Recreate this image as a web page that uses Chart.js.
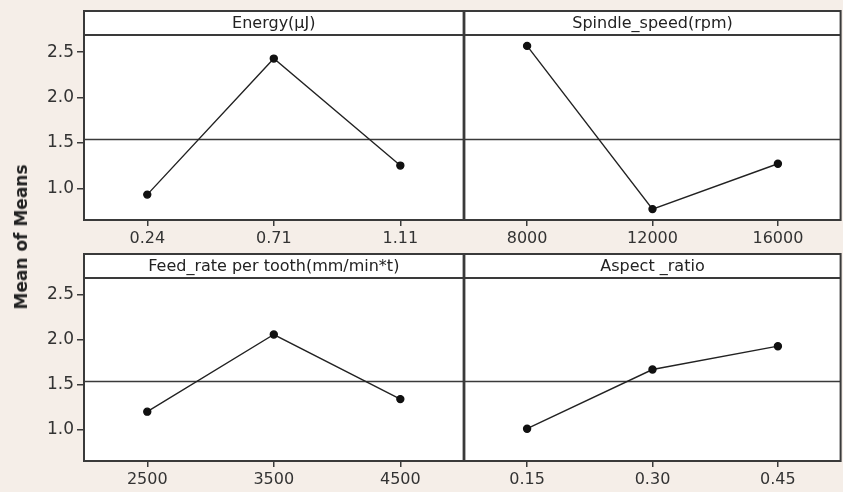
<!DOCTYPE html>
<html>
<head>
<meta charset="utf-8">
<script src="https://cdn.jsdelivr.net/npm/chart.js@4.4.1/dist/chart.umd.min.js"></script>
<style>
    html, body { margin: 0; padding: 0; background: #f5eee8; }
    #wrap { position: relative; width: 843px; height: 492px; overflow: hidden; }
    .panel { position: absolute; }
    #ytitle {
        position: absolute; left: 21px; top: 237px;
        transform: translate(-50%, -50%) rotate(-90deg);
        font: bold 17px "DejaVu Sans", sans-serif; color: #222; white-space: nowrap;
    }
</style>
</head>
<body>
<div id="wrap">
    <div class="panel" style="left:0;top:0"><canvas id="c1" width="469" height="250"></canvas></div>
    <div class="panel" style="left:459px;top:0"><canvas id="c2" width="387" height="250"></canvas></div>
    <div class="panel" style="left:0;top:250px"><canvas id="c3" width="469" height="242"></canvas></div>
    <div class="panel" style="left:459px;top:250px"><canvas id="c4" width="387" height="242"></canvas></div>
    <div id="ytitle">Mean of Means</div>
</div>
<script>
"use strict";

// Factor levels (x categories) and mean of means per level
const energyLevels = ['0.24', '0.71', '1.11'];
const energyMeans = [0.93, 2.43, 1.25];

const spindleLevels = ['8000', '12000', '16000'];
const spindleMeans = [2.57, 0.77, 1.27];

const feedLevels = ['2500', '3500', '4500'];
const feedMeans = [1.20, 2.06, 1.34];

const aspectLevels = ['0.15', '0.30', '0.45'];
const aspectMeans = [1.01, 1.67, 1.93];

// Tick labels on the y axis
const yTicks = [1.0, 1.5, 2.0, 2.5];

// Grand mean (reference line) - same for every factor
const grandMean = energyMeans.reduce((a, b) => a + b, 0) / energyMeans.length;

const FONT = '"DejaVu Sans", sans-serif';
const FRAME = '#3a3a3a';

// Plugin that draws the white panel, the header band with title and the mean line
const panelFrame = {
    id: 'panelFrame',
    beforeDraw(chart, args, opts) {
        const { ctx, chartArea: a } = chart;
        ctx.save();
        ctx.fillStyle = '#fff';
        ctx.fillRect(a.left, a.top - opts.band, a.right - a.left, a.bottom - a.top + opts.band);
        ctx.restore();
    },
    beforeDatasetsDraw(chart) {
        const { ctx, chartArea: a } = chart;
        const y = chart.scales.y.getPixelForValue(grandMean);
        ctx.save();
        ctx.strokeStyle = FRAME;
        ctx.lineWidth = 1.5;
        ctx.beginPath();
        ctx.moveTo(a.left, y);
        ctx.lineTo(a.right, y);
        ctx.stroke();
        ctx.restore();
    },
    afterDraw(chart, args, opts) {
        const { ctx, chartArea: a } = chart;
        ctx.save();
        ctx.strokeStyle = FRAME;
        ctx.lineWidth = 2;
        // Panel box incl. header band
        ctx.strokeRect(a.left, a.top - opts.band, a.right - a.left, a.bottom - a.top + opts.band);
        // Line under the header band
        ctx.beginPath();
        ctx.moveTo(a.left, a.top);
        ctx.lineTo(a.right, a.top);
        ctx.stroke();
        // Header text
        ctx.fillStyle = '#222';
        ctx.font = '16px ' + FONT;
        ctx.textAlign = 'center';
        ctx.textBaseline = 'middle';
        ctx.fillText(opts.title, (a.left + a.right) / 2, a.top - opts.band / 2 + 1);
        ctx.restore();
    }
};

// Creates one main effects panel
function makePanel(id, title, levels, means, showY, pad, xHeight) {
    new Chart(document.getElementById(id), {
        type: 'line',
        data: {
            labels: levels,
            datasets: [{
                data: means,
                borderColor: '#222',
                borderWidth: 1.4,
                pointRadius: 3.5,
                pointBackgroundColor: '#111',
                pointBorderColor: '#111',
                tension: 0
            }]
        },
        options: {
            responsive: false,
            animation: false,
            layout: { padding: pad },
            plugins: {
                legend: { display: false },
                tooltip: { enabled: false },
                panelFrame: { title: title, band: 24 }
            },
            scales: {
                x: {
                    type: 'category',
                    offset: true,
                    border: { display: false },
                    grid: { drawOnChartArea: false, drawTicks: true, tickLength: 6, color: FRAME, lineWidth: 1.5 },
                    ticks: { color: '#333', font: { family: FONT, size: 16 }, padding: 3, maxRotation: 0 },
                    afterFit: s => { s.height = xHeight; }
                },
                y: {
                    display: showY,
                    min: 0.65,
                    max: 2.69,
                    border: { display: false },
                    grid: { drawOnChartArea: false, drawTicks: true, tickLength: 7, color: FRAME, lineWidth: 1.5 },
                    ticks: {
                        color: '#333', font: { family: FONT, size: 17 }, padding: 3,
                        callback: v => Number(v).toFixed(1)
                    },
                    afterBuildTicks: s => { s.ticks = yTicks.map(v => ({ value: v })); },
                    afterFit: s => { s.width = showY ? 84 : 0; }
                }
            }
        },
        plugins: [panelFrame]
    });
}

makePanel('c1', 'Energy(μJ)', energyLevels, energyMeans, true, { top: 35, right: 2, left: 0, bottom: 0 }, 30);
makePanel('c2', 'Spindle_speed(rpm)', spindleLevels, spindleMeans, false, { top: 35, right: 3, left: 2, bottom: 0 }, 30);
makePanel('c3', 'Feed_rate per tooth(mm/min*t)', feedLevels, feedMeans, true, { top: 28, right: 2, left: 0, bottom: 0 }, 31);
makePanel('c4', 'Aspect _ratio', aspectLevels, aspectMeans, false, { top: 28, right: 3, left: 2, bottom: 0 }, 31);
</script>
</body>
</html>
